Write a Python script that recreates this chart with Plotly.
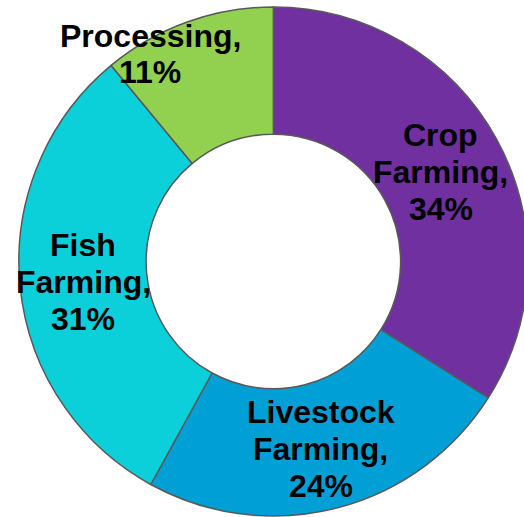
import math
import plotly.graph_objects as go

# ---- data ----
categories = ["Crop Farming", "Livestock Farming", "Fish Farming", "Processing"]
shares = [34, 24, 31, 11]

# ---- style ----
colors = ["#7030A0", "#00A0D7", "#0BCFD9", "#92D050"]
W, H = 528, 517
CX, CY, R = 273.25, 261.5, 254.5
HOLE = 0.5
FONT = "Liberation Sans, Arial, sans-serif"
FSIZE = 32
LINE_GAP = 37
TEXT_DY = 2.5
# processing label is moved outward (best fit placement)
label_override = {"Processing": (150, 54)}
label_line_gap = {"Processing": 36}

fig = go.Figure()
fig.add_trace(go.Pie(
    labels=categories,
    values=shares,
    sort=False,
    direction="clockwise",
    rotation=0,
    hole=HOLE,
    textinfo="none",
    hoverinfo="label+percent",
    marker=dict(colors=colors, line=dict(color="#595959", width=1.5)),
    domain=dict(x=[(CX - R) / W, 1], y=[1 - (CY + R) / H, 1 - (CY - R) / H]),
    showlegend=False,
))

total = sum(shares)
cum = 0
annotations = []
mid_r = R * (1 + HOLE) / 2
for name, v in zip(categories, shares):
    mid = (cum + v / 2) / total * 2 * math.pi
    cum += v
    if name in label_override:
        px, py = label_override[name]
    else:
        px = CX + mid_r * math.sin(mid)
        py = CY - mid_r * math.cos(mid) + TEXT_DY
    words = name.split(" ")
    words[-1] = words[-1] + ","
    lines = words + [f"{v}%"]
    gap = label_line_gap.get(name, LINE_GAP)
    n = len(lines)
    for i, t in enumerate(lines):
        ly = py + (i - (n - 1) / 2) * gap
        annotations.append(dict(
            x=px / W, y=1 - ly / H, xref="paper", yref="paper",
            text=f"<b>{t}</b>", showarrow=False,
            xanchor="center", yanchor="middle",
            font=dict(family=FONT, size=FSIZE, color="black"),
        ))

fig.update_layout(
    width=W, height=H,
    margin=dict(l=0, r=0, t=0, b=0),
    paper_bgcolor="white", plot_bgcolor="white",
    annotations=annotations,
)

fig.write_html(
    "out.html",
    config={"displayModeBar": False},
    post_script="document.body.style.margin='0';document.body.style.overflow='hidden';document.documentElement.style.overflow='hidden';",
)
